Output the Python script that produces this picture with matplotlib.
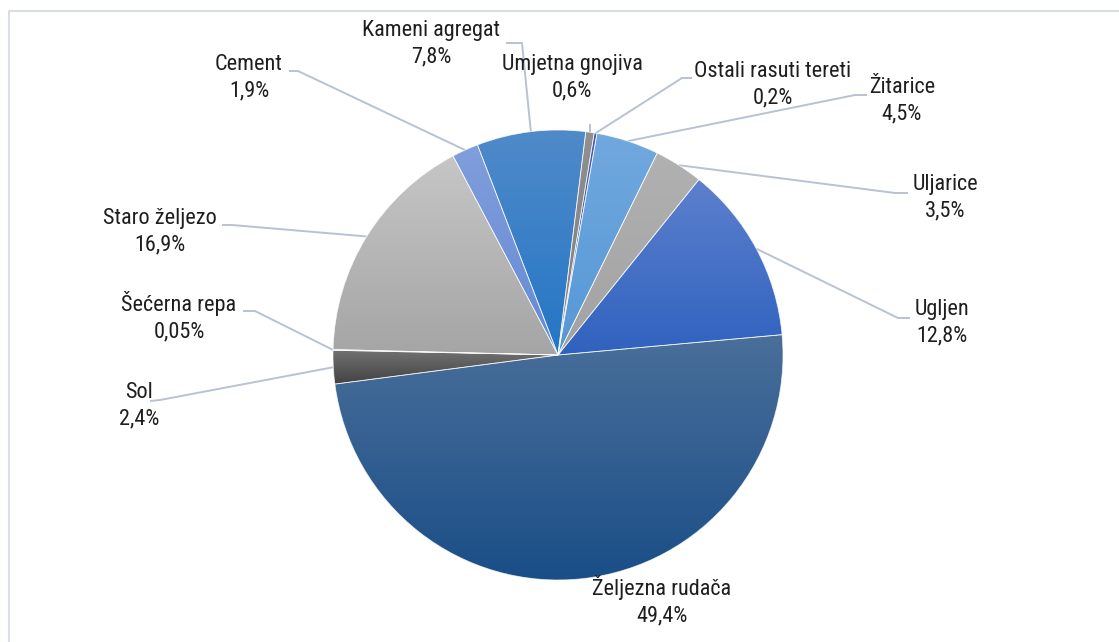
import matplotlib
matplotlib.use("Agg")
import matplotlib.pyplot as plt
import matplotlib.colors as mcolors
import numpy as np

# podaci (udio u %)
names = ["Umjetna gnojiva", "Ostali rasuti tereti", "Žitarice", "Uljarice", "Ugljen",
         "Željezna rudača", "Sol", "Šećerna repa", "Staro željezo", "Cement", "Kameni agregat"]
values = [0.6, 0.2, 4.5, 3.5, 12.8, 49.4, 2.4, 0.05, 16.9, 1.9, 7.8]

# gradijent boja po isjecku (gore, dolje)
top_colors = ["#909090", "#4a5cb0", "#71a8de", "#b1b1b1", "#5d80cd", "#4a6f9a",
              "#727272", "#a8c0e4", "#c6c6c6", "#819edc", "#508ac9"]
bottom_colors = ["#7e7e7e", "#3c4fa6", "#5598d6", "#a2a2a2", "#2f62bf", "#1a4e87",
                 "#424242", "#98b4df", "#a5a5a5", "#6489d4", "#2376c6"]

# polozaj natpisa u pikselima (sredina bloka teksta) i tocke vodilica
label_pos = [(572, 78), (773, 85), (902, 101), (945, 198), (942, 323), (662, 601),
             (139, 406), (179, 317), (160, 232), (249, 78), (431, 44)]
leader_start = [(590, 124), (692, 78), (867, 95), (908, 193), (910, 318), None,
                (150, 401), (243, 311), (222, 225), (289, 71), (506, 43)]
leader_elbow = [None, (682, 78), (855, 95), (895, 193), (898, 318), None,
                (160, 400), (255, 311), (232, 225), (298, 71), (522, 43)]

W, H = 1119, 642


def px(x, y):                                   # pikseli -> koordinate osi
    return x, H - y


fig = plt.figure(figsize=(W / 100, H / 100), dpi=100)
ax = fig.add_axes([0, 0, 1, 1])

cx, cy = px(558, 355)
R = 225
wedges, _ = ax.pie(values, colors=top_colors, startangle=82.9, counterclock=False,
                   radius=R, center=(cx, cy), frame=True)

for w, ct, cb in zip(wedges, top_colors, bottom_colors):
    ext = w.get_path().get_extents()
    t = np.linspace(0, 1, 256)[:, None]
    c0 = np.array(mcolors.to_rgb(cb))
    c1 = np.array(mcolors.to_rgb(ct))
    img = (c0 + (c1 - c0) * t)[:, None, :]
    im = ax.imshow(img, extent=(ext.x0, ext.x1, ext.y0, ext.y1), origin="lower",
                   aspect="auto", zorder=2, interpolation="bilinear")
    im.set_clip_path(w)
    w.set_facecolor("none")
    w.set_edgecolor((1, 1, 1, 0.7))
    w.set_linewidth(0.6)
    w.set_zorder(3)

line_color = "#b7c2d3"
for i, w in enumerate(wedges):
    v = values[i]
    pct = (f"{v:.2f}" if v < 0.1 else f"{v:.1f}").replace(".", ",") + "%"
    lx, ly = px(*label_pos[i])
    ax.text(lx, ly, f"{names[i]}\n{pct}", ha="center", va="center", multialignment="center",
            fontsize=16, color="#1e1e1e", linespacing=1.32,
            family=["Roboto Condensed", "DejaVu Sans"], zorder=5)
    if leader_start[i] is None:
        continue
    mid = np.deg2rad((w.theta1 + w.theta2) / 2)
    pts = [px(*leader_start[i])]
    if leader_elbow[i] is not None:
        pts.append(px(*leader_elbow[i]))
    pts.append((cx + R * np.cos(mid), cy + R * np.sin(mid)))
    xs, ys = zip(*pts)
    ax.plot(xs, ys, color=line_color, lw=1.4, zorder=1, solid_capstyle="butt")

# okvir grafikona (vidljiv samo lijevo i gore)
fx0, fy0 = px(8.5, 11)
ax.plot([fx0, fx0, W + 5], [-5, fy0, fy0], color="#d9dde4", lw=1.5, zorder=0)

ax.set_xlim(0, W)
ax.set_ylim(0, H)
ax.set_axis_off()

fig.savefig("out.png", dpi=100, facecolor="white")
